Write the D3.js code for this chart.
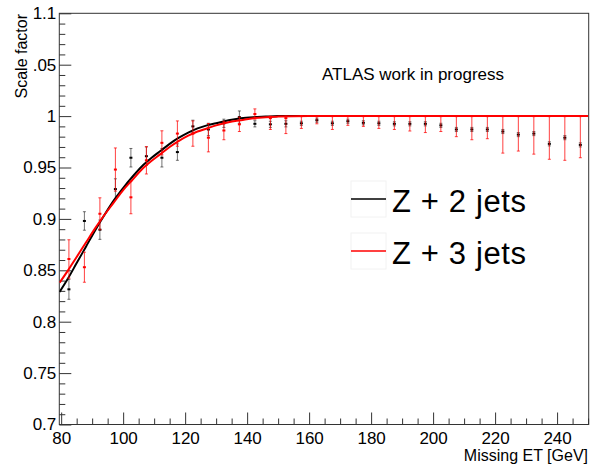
<!DOCTYPE html>
<html>
<head>
<meta charset="utf-8">
<script src="https://cdn.jsdelivr.net/npm/d3@7"></script>
<style>
  html, body { margin: 0; padding: 0; background: #fff; }
  svg { display: block; font-family: "Liberation Sans", Arial, Helvetica, sans-serif; }
</style>
</head>
<body>
<svg id="chart" width="592" height="466"></svg>
<script>
// ---------------- data ----------------
const binCenters = [82.5, 87.5, 92.5, 97.5, 102.5, 107.5, 112.5, 117.5, 122.5, 127.5,
  132.5, 137.5, 142.5, 147.5, 152.5, 157.5, 162.5, 167.5, 172.5, 177.5,
  182.5, 187.5, 192.5, 197.5, 202.5, 207.5, 212.5, 217.5, 222.5, 227.5,
  232.5, 237.5, 242.5, 247.5];

// Z + 2 jets (black) points and errors
const z2Val = [0.8315, 0.898, 0.8895, 0.929, 0.9595, 0.961, 0.9595, 0.965, 0.990, 0.987,
  0.993, 0.999, 0.9925, 0.992, 0.9925, 0.993, 0.996, 0.993, 0.995, 0.9935,
  0.993, 0.9925, 0.9925, 0.9925, 0.991, 0.987, 0.987, 0.987, 0.985, 0.982,
  0.983, 0.973, 0.979, 0.972];
const z2Err = [0.0097, 0.009, 0.0094, 0.010, 0.009, 0.009, 0.009, 0.008, 0.006, 0.006,
  0.004, 0.006, 0.003, 0.003, 0.003, 0.002, 0.002, 0.002, 0.002, 0.002,
  0.002, 0.002, 0.002, 0.002, 0.002, 0.002, 0.002, 0.002, 0.002, 0.002,
  0.002, 0.002, 0.002, 0.002];

// Z + 3 jets (red) points and asymmetric errors
const z3Val = [0.861, 0.853, 0.905, 0.948, 0.921, 0.957, 0.974, 0.983, 0.983, 0.979,
  0.986, 0.992, 1.002, 0.998, 0.998, 1.0, 1.0, 1.0, 1.0, 1.0,
  1.0, 1.0, 1.0, 1.0, 1.0, 1.0, 1.0, 1.0, 1.0, 1.0,
  1.0, 1.0, 1.0, 1.0];
const z3ErrLo = [0.0187, 0.0146, 0.0155, 0.021, 0.016, 0.0133, 0.0117, 0.0123, 0.0123, 0.0138,
  0.009, 0.007, 0.005, 0.011, 0.015, 0.012, 0.0075, 0.013, 0.009, 0.010,
  0.012, 0.013, 0.0145, 0.016, 0.015, 0.020, 0.023, 0.022, 0.036, 0.034,
  0.037, 0.042, 0.043, 0.0405];
const z3ErrHi = [0.0187, 0.0146, 0.0155, 0.021, 0.016, 0.0133, 0.0117, 0.0123, 0.0123, 0.0138,
  0.009, 0.007, 0.005, 0.002, 0.002, 0.0, 0.0, 0.0, 0.0, 0.0,
  0.0, 0.0, 0.0, 0.0, 0.0, 0.0, 0.0, 0.0, 0.0, 0.0,
  0.0, 0.0, 0.0, 0.0];

// fitted curves
const fitX  = [79.5, 82, 85, 88, 91, 94, 97, 100, 103, 106, 109, 112, 115, 118, 121, 124, 127, 130, 134, 138, 142, 146, 150, 160, 200, 250];
const fitZ2 = [0.829, 0.841, 0.857, 0.873, 0.889, 0.904, 0.918, 0.930, 0.941, 0.951, 0.959, 0.966, 0.973, 0.979, 0.984, 0.988, 0.991, 0.993, 0.996, 0.998, 0.999, 0.9995, 1.0, 1.0, 1.0, 1.0];
const fitZ3 = [0.838, 0.849, 0.863, 0.877, 0.891, 0.904, 0.916, 0.928, 0.938, 0.948, 0.956, 0.963, 0.970, 0.976, 0.981, 0.985, 0.988, 0.991, 0.994, 0.996, 0.998, 0.999, 0.9995, 1.0, 1.0, 1.0];

// axes
const xMajor = [80, 100, 120, 140, 160, 180, 200, 220, 240];
const xTickLabels = ["80", "100", "120", "140", "160", "180", "200", "220", "240"];
const yMajor = [0.7, 0.75, 0.8, 0.85, 0.9, 0.95, 1.0, 1.05, 1.1];
const yTickLabels = ["0.7", "0.75", "0.8", "0.85", "0.9", "0.95", "1", ".05", "1.1"];
const xTitle = "Missing ET [GeV]";
const yTitle = "Scale factor";
const annotation = "ATLAS work in progress";
const legendLabels = ["Z + 2 jets", "Z + 3 jets"];
const seriesColors = ["#000000", "#ff0000"];

// ---------------- drawing ----------------
const svg = d3.select("#chart");
const x = d3.scaleLinear().domain([79.4, 250.2]).range([59.3, 588.7]);
const y = d3.scaleLinear().domain([0.7, 1.1]).range([424.5, 13.3]);
const [x0, x1] = x.range();
const [yb, yt] = y.range();

svg.append("defs").append("clipPath").attr("id", "plotclip")
  .append("rect").attr("x", x0).attr("y", yt).attr("width", x1 - x0).attr("height", yb - yt);

// minor ticks
const xMinor = d3.range(80, 250.1, 5).filter(v => !xMajor.includes(v));
const yMinor = d3.range(70, 110.1, 1).map(v => v / 100).filter(v => !yMajor.some(m => Math.abs(m - v) < 1e-6));

svg.append("g").attr("transform", `translate(0,${yb})`)
  .call(d3.axisBottom(x).tickValues(xMinor).tickSize(-6).tickFormat(""))
  .call(g => g.select(".domain").remove())
  .call(g => g.selectAll("line").attr("stroke", "#333"));
svg.append("g").attr("transform", `translate(${x0},0)`)
  .call(d3.axisLeft(y).tickValues(yMinor).tickSize(-6).tickFormat(""))
  .call(g => g.select(".domain").remove())
  .call(g => g.selectAll("line").attr("stroke", "#333"));

// major ticks + labels
svg.append("g").attr("transform", `translate(0,${yb})`)
  .call(d3.axisBottom(x).tickValues(xMajor).tickSize(-12).tickPadding(7)
    .tickFormat((d, i) => xTickLabels[i]))
  .call(g => g.select(".domain").remove())
  .call(g => g.selectAll("line").attr("stroke", "#333"))
  .call(g => g.selectAll("text").attr("font-size", 17).attr("fill", "#000")
    .attr("font-family", "'Liberation Sans', Arial, sans-serif"));
svg.append("g").attr("transform", `translate(${x0},0)`)
  .call(d3.axisLeft(y).tickValues(yMajor).tickSize(-12).tickPadding(3)
    .tickFormat((d, i) => yTickLabels[i]))
  .call(g => g.select(".domain").remove())
  .call(g => g.selectAll("line").attr("stroke", "#333"))
  .call(g => g.selectAll("text").attr("font-size", 17).attr("fill", "#000")
    .attr("font-family", "'Liberation Sans', Arial, sans-serif"));

// frame
svg.append("rect").attr("x", x0).attr("y", yt).attr("width", x1 - x0).attr("height", yb - yt)
  .attr("fill", "none").attr("stroke", "#333").attr("stroke-width", 1);

// axis titles
svg.append("text").attr("x", 588).attr("y", 461).attr("text-anchor", "end")
  .attr("font-size", 16).text(xTitle);
svg.append("text").attr("transform", "translate(27,14) rotate(-90)").attr("text-anchor", "end")
  .attr("font-size", 16).text(yTitle);

const plot = svg.append("g").attr("clip-path", "url(#plotclip)");

// error bars and markers
function drawSeries(vals, lo, hi, color, barOpacity) {
  const g = plot.append("g");
  binCenters.forEach((c, i) => {
    const cx = x(c);
    const yLo = y(vals[i] - lo[i]);
    const yHi = y(vals[i] + hi[i]);
    g.append("line").attr("x1", cx).attr("x2", cx).attr("y1", yLo).attr("y2", yHi)
      .attr("stroke", color).attr("stroke-opacity", barOpacity).attr("stroke-width", 1);
    if (lo[i] > 0) g.append("line").attr("x1", cx - 1.5).attr("x2", cx + 1.5).attr("y1", yLo).attr("y2", yLo)
      .attr("stroke", color).attr("stroke-opacity", barOpacity);
    if (hi[i] > 0) g.append("line").attr("x1", cx - 1.5).attr("x2", cx + 1.5).attr("y1", yHi).attr("y2", yHi)
      .attr("stroke", color).attr("stroke-opacity", barOpacity);
    g.append("rect").attr("x", cx - 1.5).attr("y", y(vals[i]) - 1).attr("width", 3).attr("height", 2)
      .attr("fill", color);
  });
}
drawSeries(z2Val, z2Err, z2Err, seriesColors[0], 0.55);

// fit curves
const line = d3.line().x(d => x(d[0])).y(d => y(d[1])).curve(d3.curveMonotoneX);
plot.append("path").datum(fitX.map((v, i) => [v, fitZ2[i]])).attr("d", line)
  .attr("fill", "none").attr("stroke", seriesColors[0]).attr("stroke-width", 2);

drawSeries(z3Val, z3ErrLo, z3ErrHi, seriesColors[1], 0.75);

plot.append("path").datum(fitX.map((v, i) => [v, fitZ3[i]])).attr("d", line)
  .attr("fill", "none").attr("stroke", seriesColors[1]).attr("stroke-width", 2);

// annotation
svg.append("text").attr("x", 322).attr("y", 80).attr("font-size", 17).text(annotation);

// legend
const legY = [199, 251];
legendLabels.forEach((lab, i) => {
  const g = svg.append("g");
  g.append("rect").attr("x", 351).attr("y", legY[i] - 18).attr("width", 35).attr("height", 36)
    .attr("fill", "none").attr("stroke", "#f2f2f2");
  g.append("line").attr("x1", 351).attr("x2", 386).attr("y1", legY[i]).attr("y2", legY[i])
    .attr("stroke", seriesColors[i]).attr("stroke-width", 1.5);
  g.append("text").attr("x", 392).attr("y", legY[i] + 13).attr("font-size", 31)
    .attr("textLength", 134).attr("lengthAdjust", "spacing").text(lab);
});
</script>
</body>
</html>
